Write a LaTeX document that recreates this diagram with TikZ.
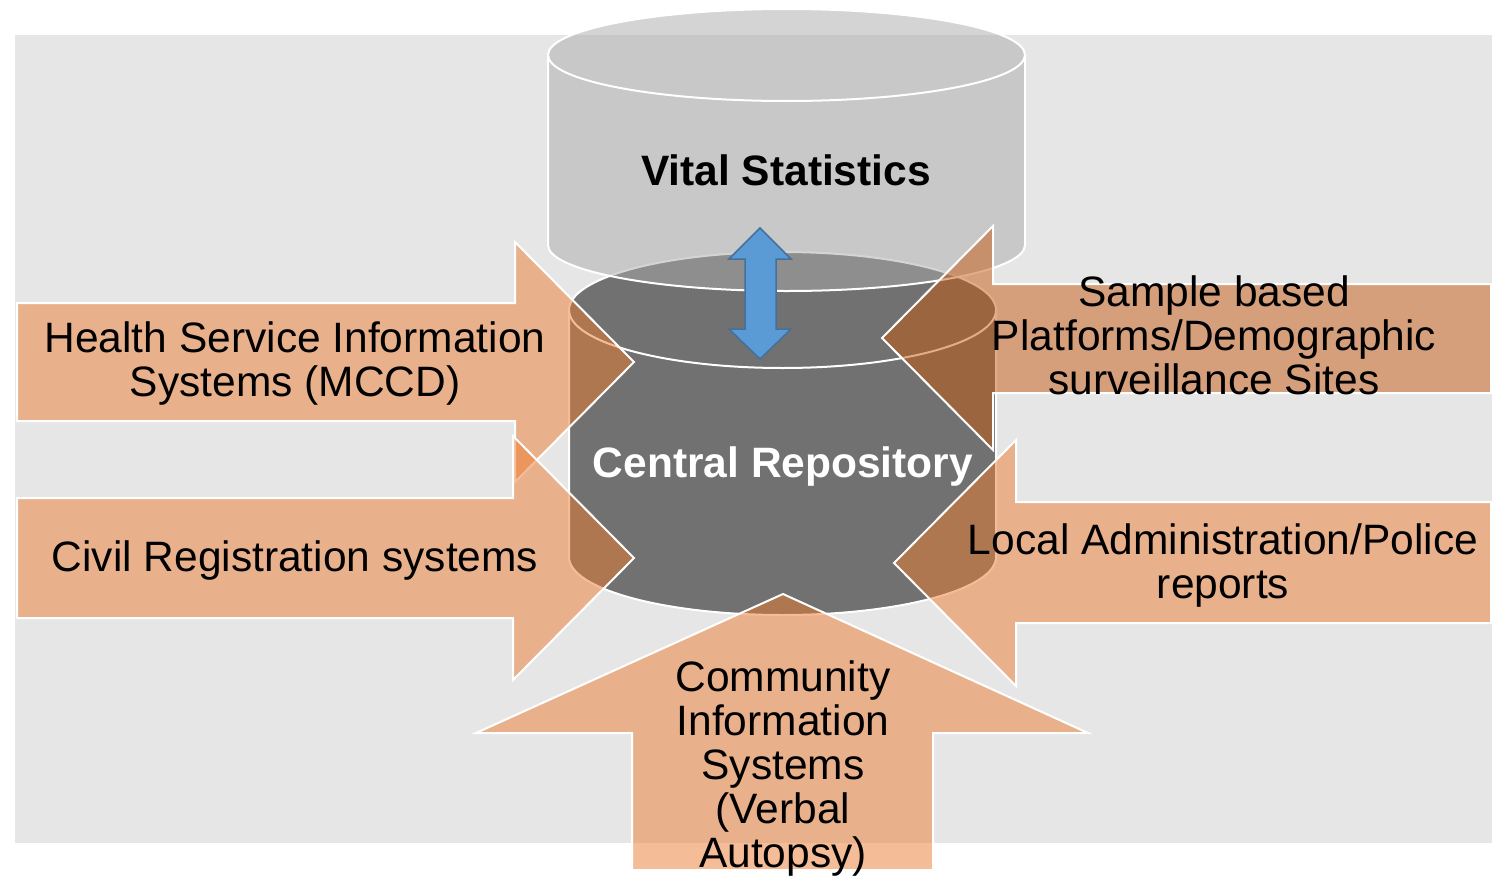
\documentclass[tikz,border=0pt]{standalone}
\usepackage{fontspec}
\setmainfont{Liberation Sans}
\definecolor{bggrey}{HTML}{E6E6E6}
\definecolor{repgrey}{HTML}{717171}
\definecolor{vitgrey}{HTML}{ADABAC}
\definecolor{arrorange}{HTML}{ED7D31}
\definecolor{arrdark}{HTML}{C55A11}
\definecolor{bluefill}{HTML}{5B9BD5}
\definecolor{blueline}{HTML}{41719C}
\tikzset{
  arrowshape/.style={fill=arrorange, fill opacity=0.5, draw=white, draw opacity=1, line width=2pt, line join=miter},
  darkarrowshape/.style={arrowshape, fill=arrdark},
  cylline/.style={draw=white, line width=2pt},
  lbl/.style={font=\fontsize{42.5}{44}\selectfont, align=center, inner sep=0pt, text=black},
  boldlbl/.style={lbl, font=\fontsize{42.5}{44}\selectfont\bfseries}
}
\begin{document}
\begin{tikzpicture}[x=1pt,y=-1pt]
\useasboundingbox (0,0) rectangle (1501,875);
\fill[white] (0,0) rectangle (1501,875);
\fill[bggrey] (15,35) rectangle (1492,843);
% Central Repository cylinder
\path[fill=repgrey, cylline]
  (569,310) -- (569,557)
  .. controls (569,589) and (664.6,615) .. (782.5,615)
  .. controls (900.4,615) and (996,589) .. (996,557)
  -- (996,310)
  .. controls (996,278) and (900.4,252) .. (782.5,252)
  .. controls (664.6,252) and (569,278) .. (569,310) -- cycle;
\draw[cylline] (569,310) .. controls (569,342) and (664.6,368) .. (782.5,368)
  .. controls (900.4,368) and (996,342) .. (996,310);
% Vital Statistics cylinder
\path[fill=vitgrey, fill opacity=0.5, cylline]
  (548,55) -- (548,245)
  .. controls (548,270.4) and (654.8,291) .. (786.5,291)
  .. controls (918.2,291) and (1025,270.4) .. (1025,245)
  -- (1025,55)
  .. controls (1025,29.6) and (918.2,9) .. (786.5,9)
  .. controls (654.8,9) and (548,29.6) .. (548,55) -- cycle;
\draw[cylline] (548,55) .. controls (548,80.4) and (654.8,101) .. (786.5,101)
  .. controls (918.2,101) and (1025,80.4) .. (1025,55);
% blue double arrow
\path[fill=bluefill, draw=blueline, line width=1.5pt, line join=miter]
  (760,228) -- (791,259) -- (776,259) -- (776,329) -- (791,329) -- (760,359)
  -- (729,329) -- (745,329) -- (745,259) -- (729,259) -- cycle;
\node[boldlbl] (vital) at (786,177) {\strut Vital Statistics};
\node[boldlbl, text=white] (central) at (783,469) {\strut Central Repository};
% input arrows
\path[arrowshape] (17,303) -- (515,303) -- (515,242) -- (634,362) -- (515,482) -- (515,421) -- (17,421) -- cycle;
\path[arrowshape] (17,498) -- (513,498) -- (513,436) -- (634,558) -- (513,680) -- (513,618) -- (17,618) -- cycle;
\path[darkarrowshape] (1491,284) -- (993,284) -- (993,226) -- (882,338) -- (993,450) -- (993,393) -- (1491,393) -- cycle;
\path[arrowshape] (1491,502) -- (1016,502) -- (1016,440) -- (894,563) -- (1016,686) -- (1016,623) -- (1491,623) -- cycle;
\path[arrowshape] (632,870) -- (632,733) -- (476,733) -- (783,594) -- (1088,733) -- (933,733) -- (933,870) -- cycle;
% labels
\node[lbl] (hsis) at (295,366) {\strut Health Service Information\\\strut Systems (MCCD)};
\node[lbl] (crs) at (295,563) {\strut Civil Registration systems};
\node[lbl] (sbp) at (1214,342) {\strut Sample based\\\strut Platforms/Demographic\\\strut surveillance Sites};
\node[lbl] (lap) at (1223,568) {\strut Local Administration/Police\\\strut reports};
\node[lbl] (cis) at (783,771) {\strut Community\\\strut Information\\\strut Systems\\\strut (Verbal\\\strut Autopsy)};
\end{tikzpicture}
\end{document}
